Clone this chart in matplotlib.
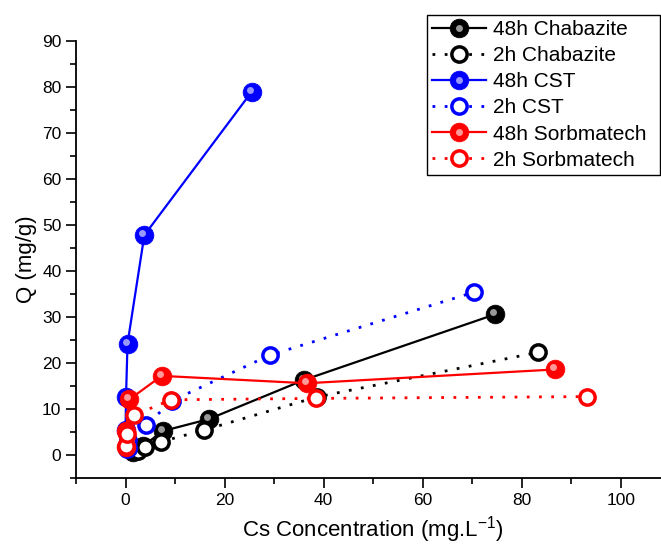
#!/usr/bin/python3
#
# plot.py
#
# Cs uptake isotherms for chabazite, CST and sorbmatech

import matplotlib
matplotlib.use('Agg')
import matplotlib.pyplot as plt
import matplotlib.transforms as mtransforms
from matplotlib.legend_handler import HandlerTuple


# Equilibrium Cs concentration (mg/L) and uptake Q (mg/g)
chab_48_x = [1.5, 3.5, 7.5, 16.8, 36.0, 74.7]
chab_48_y = [0.6, 1.9, 5.2, 7.8, 16.3, 30.6]
chab_2_x  = [2.5, 4.0, 7.2, 15.8, 38.6, 83.2]
chab_2_y  = [0.8, 1.8, 2.9, 5.4, 12.6, 22.3]

cst_48_x = [0.5, 0.0, 0.1, 0.4, 3.8, 25.5]
cst_48_y = [1.5, 5.4, 12.7, 24.2, 47.8, 79.0]
cst_2_x  = [0.3, 0.5, 4.2, 9.4, 29.1, 70.4]
cst_2_y  = [1.3, 3.2, 6.5, 11.8, 21.7, 35.4]

sorb_48_x = [0.0, 0.1, 0.8, 7.3, 36.6, 86.8]
sorb_48_y = [1.8, 5.2, 12.1, 17.2, 15.6, 18.6]
sorb_2_x  = [0.1, 0.2, 1.8, 9.2, 38.4, 93.2]
sorb_2_y  = [2.0, 4.5, 8.7, 12.0, 12.3, 12.7]

labels = ['48h Chabazite', '2h Chabazite', '48h CST', '2h CST',
          '48h Sorbmatech', '2h Sorbmatech']


plt.rcParams['font.family'] = ['Liberation Sans', 'DejaVu Sans']

fig = plt.figure(figsize=(6.61, 5.51), dpi=100)
ax = fig.add_axes([0.115, 0.1325, 0.899, 0.793])

dots = (0, (1, 3.4))
series = [
    (chab_48_x, chab_48_y, 'black', '-', True),
    (chab_2_x, chab_2_y, 'black', dots, False),
    (cst_48_x, cst_48_y, 'blue', '-', True),
    (cst_2_x, cst_2_y, 'blue', dots, False),
    (sorb_48_x, sorb_48_y, 'red', '-', True),
    (sorb_2_x, sorb_2_y, 'red', dots, False),
]

# small offset for the shiny spot on the balls
shine = mtransforms.offset_copy(ax.transData, fig=fig, x=-2, y=2, units='dots')

handles = []
for x, y, c, ls, filled in series:
    if filled:
        line, = ax.plot(x, y, color=c, linestyle=ls, linewidth=1.6,
                        marker='o', markersize=13.5, markerfacecolor=c,
                        markeredgecolor=c, markeredgewidth=0.5)
        spot, = ax.plot(x, y, linestyle='none', marker='o', markersize=5,
                        markerfacecolor='white', markeredgecolor='none',
                        alpha=0.6, transform=shine)
        handles.append((line, spot))
    else:
        line, = ax.plot(x, y, color=c, linestyle=ls, linewidth=2.0,
                        marker='o', markersize=11, markerfacecolor='white',
                        markeredgecolor=c, markeredgewidth=2.5)
        handles.append(line)

ax.set_xlim(-10, 110)
ax.set_ylim(-5, 90)
ax.set_xticks([0, 20, 40, 60, 80, 100])
ax.set_xticks(range(-10, 111, 10), minor=True)
ax.set_yticks(range(0, 91, 10))
ax.set_yticks(range(-5, 91, 5), minor=True)

ax.spines['top'].set_visible(False)
ax.spines['right'].set_visible(False)
ax.spines['left'].set_linewidth(1.3)
ax.spines['bottom'].set_linewidth(1.3)
ax.tick_params(which='major', direction='out', length=7, width=1.2, labelsize=12.5)
ax.tick_params(which='minor', direction='out', length=4, width=1.2)

ax.set_xlabel('Cs Concentration (mg.L$^{\\mathregular{-1}}$)', fontsize=16, labelpad=5)
ax.set_ylabel('Q (mg/g)', fontsize=16, labelpad=4)

# legend box stretched over a fixed span of the figure
leg = fig.legend(handles, labels, loc='upper left', mode='expand',
                 bbox_to_anchor=(0.646, 0.68, 0.3525, 0.2928), fontsize=15,
                 handler_map={tuple: HandlerTuple(ndivide=1)},
                 handlelength=2.6, handletextpad=0.3, labelspacing=0.34,
                 borderpad=0.25, borderaxespad=0.0, fancybox=False, framealpha=1)
leg.get_frame().set_edgecolor('black')
leg.get_frame().set_linewidth(1.0)

fig.savefig('out.png', dpi=100)
